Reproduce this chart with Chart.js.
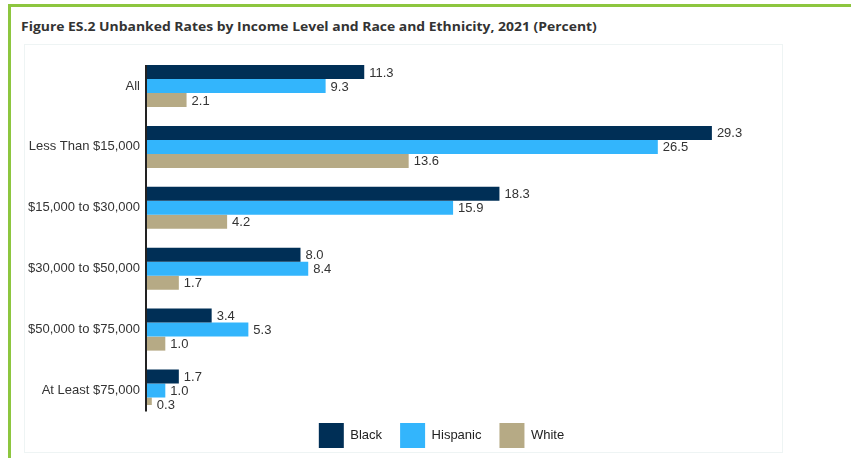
<!DOCTYPE html>
<html>
<head>
<meta charset="utf-8">
<script src="https://cdn.jsdelivr.net/npm/chart.js@4.4.0/dist/chart.umd.min.js"></script>
<style>
  html, body { margin: 0; padding: 0; background: #fff; width: 851px; height: 458px; overflow: hidden; }
  #frameTop { position: absolute; left: 8px; top: 4px; width: 843px; height: 3px; background: #8dc63f; }
  #frameLeft { position: absolute; left: 8px; top: 4px; width: 3px; height: 454px; background: #8dc63f; }
  #title { position: absolute; left: 21px; top: 17px; display: inline-block; font: 700 13px "Open Sans", sans-serif; color: #333; white-space: nowrap; transform-origin: 0 50%; }
  #panel { position: absolute; left: 24px; top: 44px; width: 757px; height: 407px; border: 1px solid #eef4f4; }
  #chartBox { position: absolute; left: 24px; top: 44px; width: 758px; height: 414px; }
</style>
</head>
<body>
<div id="frameTop"></div>
<div id="frameLeft"></div>
<div id="title">Figure ES.2 Unbanked Rates by Income Level and Race and Ethnicity, 2021 (Percent)</div>
<div id="panel"></div>
<div id="chartBox"><canvas id="ratesChart"></canvas></div>
<script>
// categories (income levels) and series
const categories = [
  "All",
  "Less Than $15,000",
  "$15,000 to $30,000",
  "$30,000 to $50,000",
  "$50,000 to $75,000",
  "At Least $75,000",
];
const seriesNames = ["Black", "Hispanic", "White"];
const blackRates = [11.3, 29.3, 18.3, 8.0, 3.4, 1.7];
const hispanicRates = [9.3, 26.5, 15.9, 8.4, 5.3, 1.0];
const whiteRates = [2.1, 13.6, 4.2, 1.7, 1.0, 0.3];

const fontFamily = '"Liberation Sans", Arial, sans-serif';
Chart.defaults.font.family = fontFamily;

// title is a condensed face in the original, squeeze it to the same width
const title = document.getElementById("title");
title.style.transform = `scaleX(${576 / title.offsetWidth})`;

const toPoints = (values) => values.map((v, i) => ({ x: v, y: i }));

// value labels + the short vertical axis line
const valueLabels = {
  id: "valueLabels",
  afterDatasetsDraw(chart) {
    const ctx = chart.ctx;
    ctx.save();
    ctx.font = "13px " + fontFamily;
    ctx.fillStyle = "#333";
    ctx.textAlign = "left";
    ctx.textBaseline = "middle";
    chart.data.datasets.forEach((ds, di) => {
      chart.getDatasetMeta(di).data.forEach((bar, i) => {
        ctx.fillText(ds.data[i].x.toFixed(1), bar.x + 5, bar.y + 1);
      });
    });
    const first = chart.getDatasetMeta(0).data[0];
    const last = chart.getDatasetMeta(2).data[categories.length - 1];
    ctx.strokeStyle = "#222";
    ctx.lineWidth = 2;
    ctx.beginPath();
    ctx.moveTo(chart.chartArea.left, first.y - first.height / 2);
    ctx.lineTo(chart.chartArea.left, last.y + last.height / 2);
    ctx.stroke();
    ctx.restore();
  },
};

const ctxRates = document.getElementById("ratesChart").getContext("2d");
new Chart(ctxRates, {
  type: "bar",
  data: {
    datasets: [
      { label: seriesNames[0], data: toPoints(blackRates), backgroundColor: "#002f56" },
      { label: seriesNames[1], data: toPoints(hispanicRates), backgroundColor: "#33b5fc" },
      { label: seriesNames[2], data: toPoints(whiteRates), backgroundColor: "#b6aa85" },
    ],
  },
  options: {
    indexAxis: "y",
    responsive: true,
    maintainAspectRatio: false,
    animation: false,
    layout: { padding: { top: 16, right: 45, left: 0, bottom: 0 } },
    datasets: {
      bar: { categoryPercentage: 0.69, barPercentage: 1.0, borderWidth: 0 },
    },
    scales: {
      x: { display: false, min: 0, max: 30.6 },
      y: {
        type: "linear",
        reverse: true,
        offset: false,
        min: -0.427,
        max: 5.238,
        grid: { display: false, drawTicks: false, offset: false },
        border: { display: false },
        ticks: {
          stepSize: 1,
          includeBounds: false,
          autoSkip: false,
          padding: 6,
          color: "#333",
          font: { size: 13 },
          callback: (v) => categories[v] ?? "",
        },
        afterFit: (scale) => {
          scale.width = 122;
        },
      },
    },
    plugins: {
      tooltip: { enabled: false },
      legend: {
        position: "bottom",
        fullSize: false,
        labels: {
          boxWidth: 25,
          boxHeight: 25,
          padding: 18,
          color: "#222",
          font: { size: 13 },
        },
      },
    },
  },
  plugins: [valueLabels],
});
</script>
</body>
</html>
